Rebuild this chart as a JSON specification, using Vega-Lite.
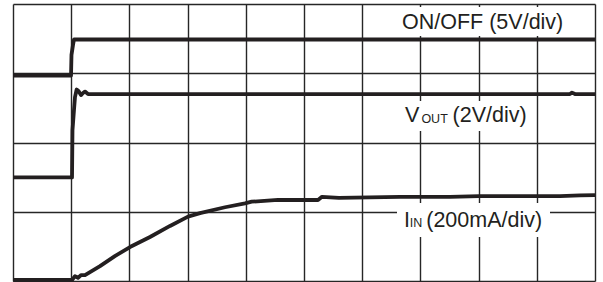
{
  "$schema": "https://vega.github.io/schema/vega-lite/v6.json",
  "width": 582,
  "height": 277,
  "autosize": {"type": "none"},
  "padding": {"left": 13, "top": 4, "right": 8, "bottom": 1},
  "background": "white",
  "config": {
    "view": {"stroke": null},
    "axis": {"grid": true, "domain": false, "ticks": false, "labels": false, "title": null, "gridColor": "#262626", "gridWidth": 1.4, "gridOpacity": 1}
  },
  "datasets": {
    "traces": [
      {"signal": "ONOFF", "x": 0, "y": 5.935},
      {"signal": "ONOFF", "x": 0.997, "y": 5.935},
      {"signal": "ONOFF", "x": 1.005, "y": 6.53},
      {"signal": "ONOFF", "x": 1.031, "y": 6.82},
      {"signal": "ONOFF", "x": 1.048, "y": 6.975},
      {"signal": "ONOFF", "x": 10, "y": 6.975},
      {"signal": "VOUT", "x": 0, "y": 2.99},
      {"signal": "VOUT", "x": 1.014, "y": 2.99},
      {"signal": "VOUT", "x": 1.022, "y": 4.36},
      {"signal": "VOUT", "x": 1.048, "y": 4.94},
      {"signal": "VOUT", "x": 1.065, "y": 5.31},
      {"signal": "VOUT", "x": 1.094, "y": 5.53},
      {"signal": "VOUT", "x": 1.125, "y": 5.49},
      {"signal": "VOUT", "x": 1.168, "y": 5.37},
      {"signal": "VOUT", "x": 1.203, "y": 5.43},
      {"signal": "VOUT", "x": 1.237, "y": 5.47},
      {"signal": "VOUT", "x": 1.289, "y": 5.40},
      {"signal": "VOUT", "x": 9.57, "y": 5.40},
      {"signal": "VOUT", "x": 9.605, "y": 5.44},
      {"signal": "VOUT", "x": 9.656, "y": 5.40},
      {"signal": "VOUT", "x": 10, "y": 5.40},
      {"signal": "IIN", "x": 0, "y": 0.03},
      {"signal": "IIN", "x": 1.014, "y": 0.03},
      {"signal": "IIN", "x": 1.065, "y": 0.14},
      {"signal": "IIN", "x": 1.117, "y": 0.09},
      {"signal": "IIN", "x": 1.168, "y": 0.17},
      {"signal": "IIN", "x": 1.237, "y": 0.17},
      {"signal": "IIN", "x": 1.495, "y": 0.43},
      {"signal": "IIN", "x": 1.75, "y": 0.72},
      {"signal": "IIN", "x": 2.01, "y": 0.98},
      {"signal": "IIN", "x": 2.354, "y": 1.27},
      {"signal": "IIN", "x": 2.698, "y": 1.59},
      {"signal": "IIN", "x": 3.007, "y": 1.86},
      {"signal": "IIN", "x": 3.213, "y": 1.96},
      {"signal": "IIN", "x": 3.643, "y": 2.13},
      {"signal": "IIN", "x": 3.986, "y": 2.24},
      {"signal": "IIN", "x": 4.1, "y": 2.29},
      {"signal": "IIN", "x": 4.553, "y": 2.34},
      {"signal": "IIN", "x": 5.241, "y": 2.34},
      {"signal": "IIN", "x": 5.309, "y": 2.43},
      {"signal": "IIN", "x": 5.6, "y": 2.40},
      {"signal": "IIN", "x": 6.649, "y": 2.43},
      {"signal": "IIN", "x": 7.509, "y": 2.43},
      {"signal": "IIN", "x": 8.007, "y": 2.45},
      {"signal": "IIN", "x": 8.883, "y": 2.45},
      {"signal": "IIN", "x": 9.399, "y": 2.45},
      {"signal": "IIN", "x": 9.742, "y": 2.47},
      {"signal": "IIN", "x": 10, "y": 2.48}
    ],
    "boxes": [
      {"x": 6.615, "x2": 9.605, "y": 7.913, "y2": 7.076},
      {"x": 6.598, "x2": 8.969, "y": 5.199, "y2": 4.332},
      {"x": 6.598, "x2": 9.227, "y": 2.253, "y2": 1.271}
    ],
    "mainText": [
      {"text": "ON/OFF (5V/div)", "x": 6.684, "y": 7.287},
      {"text": "V", "x": 6.735, "y": 4.60},
      {"text": "(2V/div)", "x": 7.552, "y": 4.60},
      {"text": "I", "x": 6.72, "y": 1.568},
      {"text": "(200mA/div)", "x": 7.10, "y": 1.568}
    ],
    "subText": [
      {"text": "OUT", "x": 7.017, "y": 4.552},
      {"text": "IN", "x": 6.818, "y": 1.551}
    ]
  },
  "layer": [
    {
      "data": {"name": "boxes"},
      "mark": {"type": "rect", "fill": "white", "stroke": null},
      "encoding": {
        "x": {"field": "x", "type": "quantitative", "scale": {"domain": [0, 10], "nice": false, "zero": false}, "axis": {"values": [0, 1, 2, 3, 4, 5, 6, 7, 8, 9, 10]}},
        "x2": {"field": "x2"},
        "y": {"field": "y", "type": "quantitative", "scale": {"domain": [0, 8], "nice": false, "zero": false}, "axis": {"values": [0, 1, 2, 3, 4, 5, 6, 7, 8]}},
        "y2": {"field": "y2"}
      }
    },
    {
      "data": {"name": "traces"},
      "mark": {"type": "line", "strokeWidth": 3.8, "color": "#231f20", "strokeJoin": "round", "strokeCap": "butt"},
      "encoding": {
        "x": {"field": "x", "type": "quantitative"},
        "y": {"field": "y", "type": "quantitative"},
        "detail": {"field": "signal"}
      }
    },
    {
      "data": {"name": "mainText"},
      "mark": {"type": "text", "font": "Liberation Sans", "fontSize": 21.5, "color": "#231f20", "align": "left", "baseline": "alphabetic"},
      "encoding": {
        "x": {"field": "x", "type": "quantitative"},
        "y": {"field": "y", "type": "quantitative"},
        "text": {"field": "text"}
      }
    },
    {
      "data": {"name": "subText"},
      "mark": {"type": "text", "font": "Liberation Sans", "fontSize": 12.5, "color": "#231f20", "align": "left", "baseline": "alphabetic"},
      "encoding": {
        "x": {"field": "x", "type": "quantitative"},
        "y": {"field": "y", "type": "quantitative"},
        "text": {"field": "text"}
      }
    }
  ]
}
